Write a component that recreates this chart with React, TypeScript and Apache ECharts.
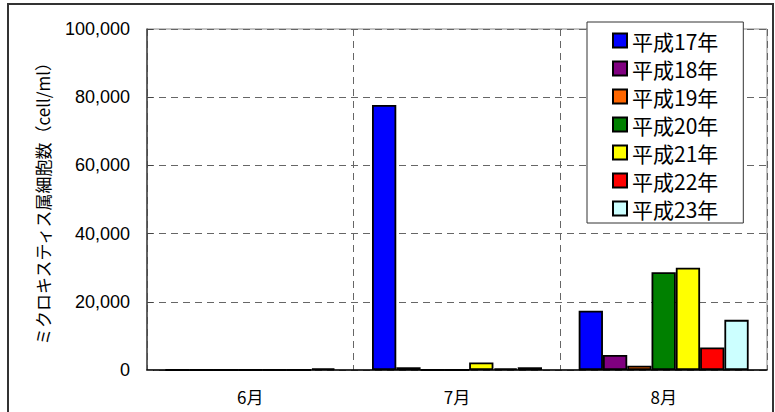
import React, { useEffect, useRef } from "react";
import * as echarts from "echarts";

const categories = ["6月", "7月", "8月"];
const seriesNames = ["平成17年", "平成18年", "平成19年", "平成20年", "平成21年", "平成22年", "平成23年"];
const h17 = [0, 77700, 17400];
const h18 = [0, 800, 4400];
const h19 = [0, 0, 1250];
const h20 = [0, 0, 28700];
const h21 = [0, 2200, 30000];
const h22 = [0, 500, 6600];
const h23 = [500, 800, 14700];
const seriesValues = [h17, h18, h19, h20, h21, h22, h23];
const colors = ["#0000FF", "#800080", "#FF6600", "#008000", "#FFFF00", "#FF0000", "#CCFFFF"];
const yTicks = { min: 0, max: 100000, interval: 20000 };

const JP = "'Noto Sans CJK JP', 'Noto Sans', sans-serif";
const LAT = "'Liberation Sans', Arial, sans-serif";

export default function App() {
  const ref = useRef<HTMLDivElement>(null);
  useEffect(() => {
    if (!ref.current) return;
    const chart = echarts.init(ref.current, null, { renderer: "svg" });
    chart.setOption({
      animation: false,
      backgroundColor: "#fff",
      graphic: [
        {
          type: "rect",
          shape: { x: 8, y: 4, width: 765, height: 430 },
          style: { fill: "none", stroke: "#333", lineWidth: 2 },
          z: 100,
        },
      ],
      grid: {
        left: 147,
        top: 29,
        right: 8,
        bottom: 42,
        show: true,
        borderColor: "#888",
        borderWidth: 1,
        backgroundColor: "#fff",
      },
      legend: {
        orient: "vertical",
        left: 587,
        top: 22,
        padding: [8, 25, 4, 25],
        backgroundColor: "#fff",
        borderColor: "#333",
        borderWidth: 1,
        itemWidth: 14,
        itemHeight: 14,
        itemGap: 7,
        icon: "rect",
        textStyle: { fontFamily: JP, fontSize: 21, lineHeight: 21, color: "#000" },
        data: seriesNames,
      },
      xAxis: {
        type: "category",
        data: categories,
        axisLine: { show: true, lineStyle: { color: "#000", width: 1.5 } },
        axisTick: { show: false },
        axisLabel: { fontFamily: JP, fontSize: 17, color: "#000", margin: 18 },
        splitLine: { show: true, lineStyle: { color: "#666", type: [7, 5], width: 1 } },
      },
      yAxis: {
        type: "value",
        min: yTicks.min,
        max: yTicks.max,
        interval: yTicks.interval,
        name: "ミクロキスティス属細胞数（cell/ml）",
        nameLocation: "middle",
        nameRotate: 90,
        nameGap: 96,
        nameTextStyle: { fontFamily: JP, fontSize: 17, color: "#000" },
        axisLine: { show: true, lineStyle: { color: "#444", width: 1.5 } },
        axisTick: { show: true, inside: true, length: 6, lineStyle: { color: "#444" } },
        axisLabel: {
          fontFamily: LAT,
          fontSize: 18,
          color: "#000",
          margin: 17,
          formatter: (v: number) => v.toLocaleString("en-US"),
        },
        splitLine: { show: true, lineStyle: { color: "#666", type: [7, 5], width: 1 } },
      },
      series: seriesNames.map((name, i) => ({
        name,
        type: "bar",
        data: seriesValues[i],
        barGap: "0%",
        barCategoryGap: "17.75%",
        itemStyle: { color: colors[i], borderColor: "#000", borderWidth: 1.8 },
      })),
    });
    return () => chart.dispose();
  }, []);
  return (
    <div
      ref={ref}
      style={{ position: "absolute", left: 0, top: 0, width: 775, height: 412 }}
    />
  );
}
